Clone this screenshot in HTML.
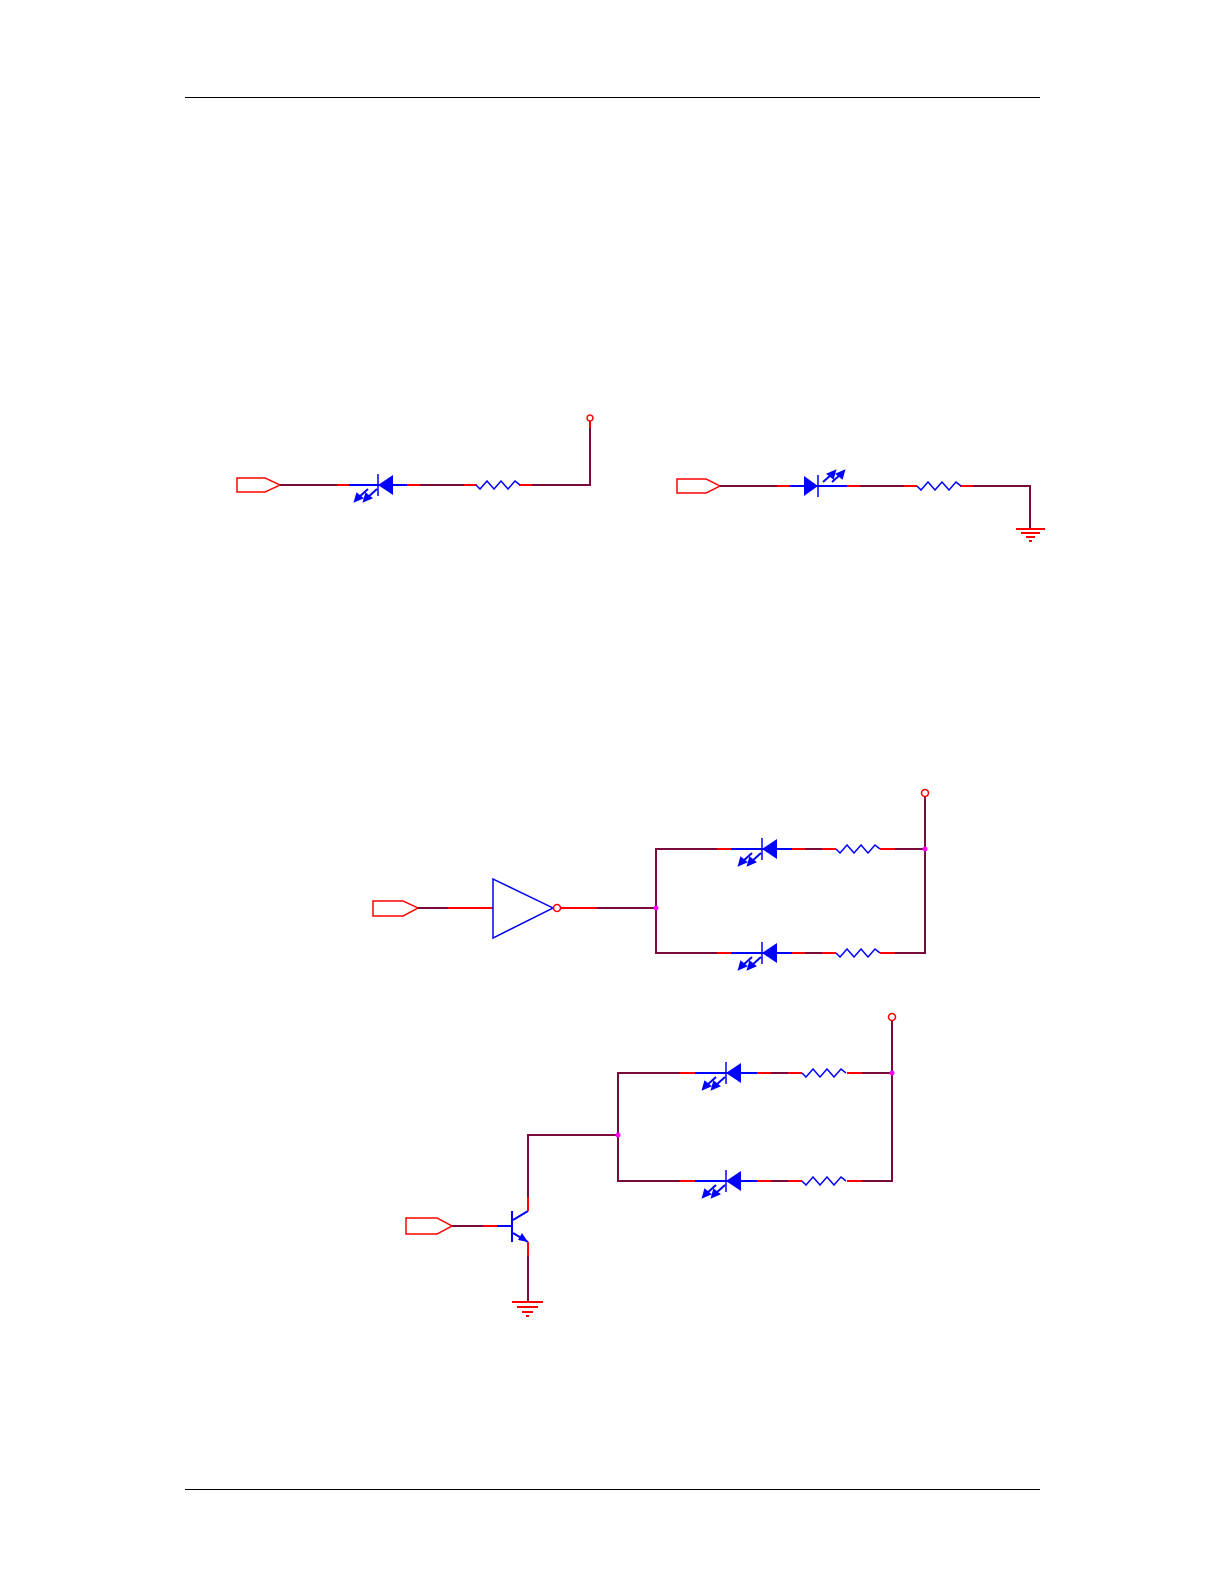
<!DOCTYPE html>
<html><head><meta charset="utf-8"><style>html,body{margin:0;padding:0;background:#fff}svg{display:block}</style></head>
<body>
<svg width="1225" height="1585" viewBox="0 0 1225 1585" xmlns="http://www.w3.org/2000/svg">
<defs>
<g id="ledL">
  <polygon points="0,0 15,-10 15,10" fill="#0000ff"/>
  <line x1="0" y1="-11" x2="0" y2="11" stroke="#0000ff" stroke-width="1.5"/>
  <g stroke="#0000ff" stroke-width="2" fill="#0000ff">
    <line x1="-10" y1="4" x2="-20" y2="13"/><polygon points="-23,16 -21,9 -16,13"/>
    <line x1="-1" y1="4" x2="-11" y2="13"/><polygon points="-14,16 -12,9 -7,13"/>
  </g>
</g>
<g id="res">
  <polyline points="0,0 4,4 11,-4 18,4 25,-4 32,4 39,-4 44,0" fill="none" stroke="#0000ff" stroke-width="1.5"/>
</g>
</defs>
<g stroke="#000" stroke-width="1"><line x1="185" y1="97.5" x2="1040" y2="97.5"/><line x1="185" y1="1489.5" x2="1040" y2="1489.5"/></g>

<g fill="none" stroke-width="2">
<polygon points="237,478 265,478 280,485 265,492 237,492" stroke="#ff0000" stroke-width="1.5"/>
<polyline points="280,485 590,485 590,421" stroke="#7a0a3c"/>
<line x1="337" y1="485" x2="349" y2="485" stroke="#ff0000"/>
<line x1="349" y1="485" x2="407" y2="485" stroke="#0000ff"/>
<line x1="407" y1="485" x2="420" y2="485" stroke="#ff0000"/>
<line x1="464" y1="485" x2="477" y2="485" stroke="#ff0000"/>
<line x1="519" y1="485" x2="532" y2="485" stroke="#ff0000"/>
<line x1="477" y1="485" x2="519" y2="485" stroke="#fff" stroke-width="3"/>
<circle cx="590" cy="418" r="3" stroke="#ff0000" stroke-width="1.5"/>
<line x1="590" y1="421" x2="590" y2="428" stroke="#ff0000"/>

<polygon points="677,479 706,479 720,486 706,493 677,493" stroke="#ff0000" stroke-width="1.5"/>
<polyline points="720,486 1030,486 1030,528" stroke="#7a0a3c"/>
<line x1="777" y1="486" x2="790" y2="486" stroke="#ff0000"/>
<line x1="790" y1="486" x2="847" y2="486" stroke="#0000ff"/>
<line x1="847" y1="486" x2="860" y2="486" stroke="#ff0000"/>
<line x1="904" y1="486" x2="917" y2="486" stroke="#ff0000"/>
<line x1="960" y1="486" x2="973" y2="486" stroke="#ff0000"/>
<line x1="917" y1="486" x2="960" y2="486" stroke="#fff" stroke-width="3"/>
<g stroke="#ff0000"><line x1="1016" y1="529" x2="1045" y2="529"/><line x1="1021" y1="533" x2="1040" y2="533"/><line x1="1026" y1="537" x2="1035" y2="537"/><line x1="1029" y1="541" x2="1032" y2="541"/></g>

<polygon points="373,901 403,901 418,908 403,916 373,916" stroke="#ff0000" stroke-width="1.5"/>
<line x1="418" y1="908" x2="493" y2="908" stroke="#7a0a3c"/>
<line x1="448" y1="908" x2="493" y2="908" stroke="#ff0000"/>
<polygon points="493,879 553,908 493,938" stroke="#0000ff" stroke-width="1.5"/>
<circle cx="557" cy="908" r="3.5" stroke="#ff0000" stroke-width="1.5"/>
<line x1="561" y1="908" x2="656" y2="908" stroke="#7a0a3c"/>
<line x1="561" y1="908" x2="597" y2="908" stroke="#ff0000"/>
<polyline points="731,849 656,849 656,953 731,953" stroke="#7a0a3c"/>
<polyline points="792,849 925,849" stroke="#7a0a3c"/>
<polyline points="792,953 925,953 925,797" stroke="#7a0a3c"/>
<circle cx="925" cy="793" r="3.5" stroke="#ff0000" stroke-width="1.5"/>
<g stroke="#ff0000">
<line x1="717" y1="849" x2="731" y2="849"/><line x1="792" y1="849" x2="805" y2="849"/><line x1="822" y1="849" x2="836" y2="849"/><line x1="880" y1="849" x2="895" y2="849"/>
<line x1="717" y1="953" x2="731" y2="953"/><line x1="792" y1="953" x2="805" y2="953"/><line x1="822" y1="953" x2="836" y2="953"/><line x1="880" y1="953" x2="895" y2="953"/>
</g>
<line x1="836" y1="849" x2="880" y2="849" stroke="#fff" stroke-width="3"/>
<line x1="836" y1="953" x2="880" y2="953" stroke="#fff" stroke-width="3"/>
<line x1="731" y1="849" x2="792" y2="849" stroke="#0000ff"/>
<line x1="731" y1="953" x2="792" y2="953" stroke="#0000ff"/>

<polygon points="406,1218 437,1218 452,1226 437,1234 406,1234" stroke="#ff0000" stroke-width="1.5"/>
<line x1="452" y1="1226" x2="497" y2="1226" stroke="#7a0a3c"/>
<line x1="483" y1="1226" x2="497" y2="1226" stroke="#ff0000"/>
<line x1="497" y1="1226" x2="512" y2="1226" stroke="#0000ff"/>
<line x1="512" y1="1211" x2="512" y2="1242" stroke="#0000ff"/>
<line x1="513" y1="1220" x2="528" y2="1211" stroke="#0000ff"/>
<line x1="513" y1="1233" x2="528" y2="1242" stroke="#0000ff"/>
<polyline points="528,1211 528,1135 618,1135" stroke="#7a0a3c"/>
<line x1="528" y1="1197" x2="528" y2="1211" stroke="#ff0000"/>
<line x1="528" y1="1242" x2="528" y2="1302" stroke="#7a0a3c"/>
<line x1="528" y1="1242" x2="528" y2="1256" stroke="#ff0000"/>
<g stroke="#ff0000"><line x1="512" y1="1302" x2="543" y2="1302"/><line x1="517" y1="1307" x2="538" y2="1307"/><line x1="522" y1="1312" x2="533" y2="1312"/><line x1="526" y1="1316" x2="529" y2="1316"/></g>
<polyline points="695,1073 618,1073 618,1181 695,1181" stroke="#7a0a3c"/>
<polyline points="757,1073 892,1073" stroke="#7a0a3c"/>
<polyline points="757,1181 892,1181 892,1021" stroke="#7a0a3c"/>
<circle cx="892" cy="1017" r="3.5" stroke="#ff0000" stroke-width="1.5"/>
<g stroke="#ff0000">
<line x1="680" y1="1073" x2="695" y2="1073"/><line x1="757" y1="1073" x2="771" y2="1073"/><line x1="788" y1="1073" x2="802" y2="1073"/><line x1="847" y1="1073" x2="862" y2="1073"/>
<line x1="680" y1="1181" x2="695" y2="1181"/><line x1="757" y1="1181" x2="771" y2="1181"/><line x1="788" y1="1181" x2="802" y2="1181"/><line x1="847" y1="1181" x2="862" y2="1181"/>
</g>
<line x1="802" y1="1073" x2="847" y2="1073" stroke="#fff" stroke-width="3"/>
<line x1="802" y1="1181" x2="847" y2="1181" stroke="#fff" stroke-width="3"/>
<line x1="695" y1="1073" x2="757" y2="1073" stroke="#0000ff"/>
<line x1="695" y1="1181" x2="757" y2="1181" stroke="#0000ff"/>
</g>

<polygon points="528,1242 518,1240 522,1233" fill="#0000ff"/>

<use href="#ledL" x="378" y="485"/>
<use href="#res" x="476" y="485"/>
<polygon points="804,476 818,486 804,496" fill="#0000ff"/>
<line x1="818" y1="475" x2="818" y2="497" stroke="#0000ff" stroke-width="1.5"/>
<g stroke="#0000ff" stroke-width="2" fill="#0000ff">
<line x1="823" y1="482" x2="832" y2="474"/><polygon points="835,471 833,478 828,474"/>
<line x1="832" y1="482" x2="841" y2="474"/><polygon points="844,471 842,478 837,474"/>
</g>
<use href="#res" x="917" y="486"/>

<use href="#ledL" x="762" y="849"/>
<use href="#res" x="836" y="849"/>
<use href="#ledL" x="762" y="953"/>
<use href="#res" x="836" y="953"/>

<use href="#ledL" x="726" y="1073"/>
<use href="#res" x="802" y="1073"/>
<use href="#ledL" x="726" y="1181"/>
<use href="#res" x="802" y="1181"/>

<g fill="#ff00ff"><circle cx="656" cy="908" r="2.5"/><circle cx="925" cy="849" r="2.5"/><circle cx="618" cy="1135" r="2.5"/><circle cx="892" cy="1073" r="2.5"/></g>
</svg>
</body></html>
